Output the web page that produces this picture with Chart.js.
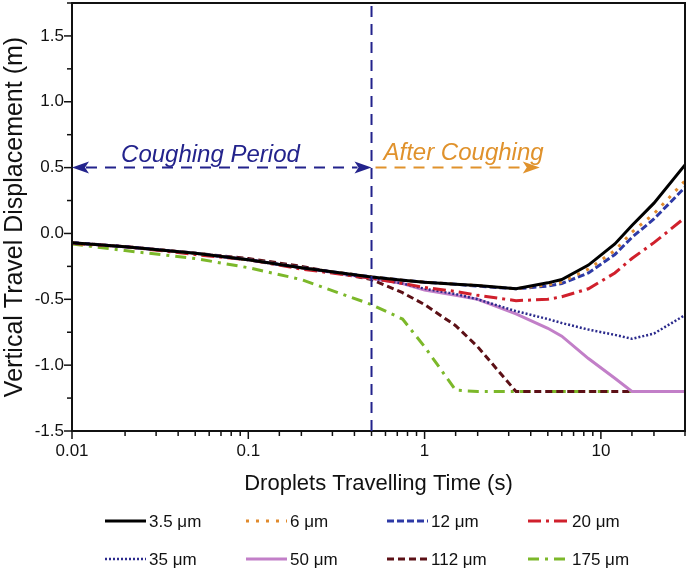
<!DOCTYPE html>
<html>
<head>
<meta charset="utf-8">
<script src="https://cdn.jsdelivr.net/npm/chart.js@4.4.0/dist/chart.umd.min.js"></script>
<style>
  html, body { margin: 0; padding: 0; background: #fff; }
  #wrap { width: 688px; height: 572px; }
</style>
</head>
<body>
<div id="wrap"><canvas id="chart"></canvas></div>
<script>
// droplet travelling time (s), shared by all series
const times = [0.01, 0.02, 0.05, 0.1, 0.2, 0.5, 0.75, 1, 1.5, 2, 3.3, 5, 6, 8.5, 12, 15, 20, 30];

const sizeLabels = ['3.5 μm', '6 μm', '12 μm', '20 μm', '35 μm', '50 μm', '112 μm', '175 μm'];

// vertical travel displacement (m), one array per droplet size
const d3_5 = [-0.07, -0.10, -0.15, -0.20, -0.26, -0.33, -0.355, -0.37, -0.385, -0.395, -0.42, -0.375, -0.35, -0.24, -0.08, 0.06, 0.23, 0.52];
const d6   = [-0.07, -0.10, -0.15, -0.20, -0.26, -0.33, -0.355, -0.37, -0.385, -0.395, -0.42, -0.39, -0.37, -0.27, -0.13, 0.01, 0.15, 0.40];
const d12  = [-0.07, -0.10, -0.15, -0.20, -0.26, -0.33, -0.355, -0.37, -0.385, -0.40, -0.42, -0.40, -0.38, -0.30, -0.16, -0.03, 0.11, 0.35];
const d20  = [-0.075, -0.10, -0.16, -0.20, -0.27, -0.34, -0.38, -0.41, -0.44, -0.47, -0.51, -0.50, -0.48, -0.42, -0.30, -0.19, -0.07, 0.12];
const d35  = [-0.07, -0.10, -0.15, -0.20, -0.26, -0.34, -0.38, -0.42, -0.46, -0.50, -0.59, -0.65, -0.68, -0.73, -0.77, -0.80, -0.76, -0.62];
const d50  = [-0.07, -0.10, -0.15, -0.20, -0.26, -0.34, -0.38, -0.43, -0.47, -0.50, -0.61, -0.72, -0.78, -0.95, -1.10, -1.20, -1.20, -1.20];
const d112 = [-0.07, -0.10, -0.15, -0.19, -0.25, -0.35, -0.45, -0.54, -0.70, -0.86, -1.20, -1.20, -1.20, -1.20, -1.20, -1.20, null, null];
const d175 = [-0.08, -0.13, -0.19, -0.26, -0.35, -0.54, -0.65, -0.86, -1.19, -1.20, -1.20, -1.20, -1.20, -1.20, -1.20, -1.20, null, null];

const coughEnd = 0.5;     // end of coughing period (s)
const afterArrowEnd = 4.5;

const series = [d3_5, d6, d12, d20, d35, d50, d112, d175];
const colors = ['#000000', '#e08a2c', '#2e3aa6', '#d0202c', '#2b2a8c', '#c27fc8', '#5c1016', '#7cb82a'];
const dashes = [[], [3, 7], [7, 3], [13, 5, 3, 5], [2, 2], [], [7, 4], [11, 6, 3, 6]];
const widths = [3, 3, 3, 3, 2.5, 3, 3, 3];

const FONT = '"Liberation Sans", Arial, sans-serif';

const datasets = series.map((vals, i) => ({
  label: sizeLabels[i],
  data: times.map((t, j) => ({ x: t, y: vals[j] })).filter(p => p.y !== null),
  borderColor: colors[i],
  backgroundColor: colors[i],
  borderWidth: widths[i],
  borderDash: dashes[i],
  pointRadius: 0,
  tension: 0,
  fill: false
}));

const isDecade = v => Math.abs(Math.log10(v) - Math.round(Math.log10(v))) < 1e-6;

// frame, tick marks, annotations and the custom legend
const decorPlugin = {
  id: 'decor',
  afterDraw(chart) {
    const { ctx, chartArea: a, scales: { x, y } } = chart;
    ctx.save();

    // tick marks
    ctx.strokeStyle = '#111';
    ctx.lineWidth = 1.5;
    x.ticks.forEach(t => {
      const px = x.getPixelForValue(t.value);
      const len = isDecade(t.value) ? 8 : 5;
      ctx.beginPath(); ctx.moveTo(px, a.bottom); ctx.lineTo(px, a.bottom + len); ctx.stroke();
    });
    y.ticks.forEach(t => {
      const py = y.getPixelForValue(t.value);
      const major = Math.abs(t.value * 2 - Math.round(t.value * 2)) < 1e-6;
      const len = major ? 8 : 5;
      ctx.beginPath(); ctx.moveTo(a.left, py); ctx.lineTo(a.left - len, py); ctx.stroke();
    });

    // frame
    ctx.lineWidth = 2;
    ctx.strokeStyle = '#111';
    ctx.strokeRect(a.left, a.top, a.right - a.left, a.bottom - a.top);

    // coughing period marker
    const navy = '#23238c';
    const orange = '#e0922c';
    const xc = x.getPixelForValue(coughEnd);
    const ya = y.getPixelForValue(0.5);
    ctx.lineWidth = 2;
    ctx.setLineDash([11, 7]);
    ctx.strokeStyle = navy;
    ctx.beginPath(); ctx.moveTo(xc, a.bottom); ctx.lineTo(xc, a.top); ctx.stroke();

    const head = (tipX, dir, col) => {
      ctx.fillStyle = col;
      ctx.beginPath();
      ctx.moveTo(tipX, ya);
      ctx.lineTo(tipX - dir * 17, ya - 6);
      ctx.lineTo(tipX - dir * 13, ya);
      ctx.lineTo(tipX - dir * 17, ya + 6);
      ctx.closePath();
      ctx.fill();
    };
    ctx.setLineDash([11, 8]);
    ctx.beginPath(); ctx.moveTo(a.left + 14, ya); ctx.lineTo(xc - 14, ya); ctx.stroke();
    ctx.setLineDash([]);
    head(a.left, -1, navy);
    head(xc, 1, navy);

    const xe = x.getPixelForValue(afterArrowEnd);
    ctx.strokeStyle = orange;
    ctx.setLineDash([11, 8]);
    ctx.beginPath(); ctx.moveTo(xc + 4, ya); ctx.lineTo(xe - 14, ya); ctx.stroke();
    ctx.setLineDash([]);
    head(xe, 1, orange);

    ctx.font = 'italic 24px ' + FONT;
    ctx.textBaseline = 'alphabetic';
    ctx.textAlign = 'center';
    ctx.fillStyle = navy;
    ctx.fillText('Coughing Period', x.getPixelForValue(0.061), y.getPixelForValue(0.545));
    ctx.textAlign = 'left';
    ctx.fillStyle = orange;
    ctx.fillText('After Coughing', xc + 12, y.getPixelForValue(0.56));

    // legend: 4 columns x 2 rows
    const cols = [105, 246, 387, 528];
    const rows = [521, 559];
    ctx.font = '17px ' + FONT;
    ctx.textBaseline = 'middle';
    ctx.textAlign = 'left';
    chart.data.datasets.forEach((ds, i) => {
      const cx = cols[i % 4];
      const cy = rows[Math.floor(i / 4)];
      ctx.strokeStyle = ds.borderColor;
      ctx.lineWidth = ds.borderWidth;
      ctx.setLineDash(ds.borderDash);
      ctx.beginPath(); ctx.moveTo(cx, cy); ctx.lineTo(cx + 41, cy); ctx.stroke();
      ctx.setLineDash([]);
      ctx.fillStyle = '#111';
      ctx.fillText(ds.label, cx + 44, cy + 1);
    });

    ctx.restore();
  }
};

new Chart(document.getElementById('chart'), {
  type: 'line',
  data: { datasets },
  options: {
    responsive: true,
    maintainAspectRatio: false,
    animation: false,
    layout: { padding: { top: 3, right: 3, bottom: 74, left: 0 } },
    plugins: { legend: { display: false }, tooltip: { enabled: false } },
    scales: {
      x: {
        type: 'logarithmic',
        min: 0.01,
        max: 30,
        afterFit: s => { s.height = 67; s.paddingLeft = 0; s.paddingRight = 0; },
        grid: { drawOnChartArea: false, drawTicks: true, tickLength: 7, color: 'rgba(0,0,0,0)' },
        border: { display: false },
        ticks: {
          autoSkip: false,
          maxRotation: 0,
          padding: 3,
          color: '#111',
          font: { family: FONT, size: 17 },
          callback: v => isDecade(v) ? String(v) : ''
        },
        title: {
          display: true,
          text: 'Droplets Travelling Time (s)',
          color: '#111',
          font: { family: FONT, size: 22 },
          padding: { top: 0, bottom: 1 }
        }
      },
      y: {
        min: -1.5,
        max: 1.75,
        afterFit: s => { s.width = 72; s.paddingTop = 0; s.paddingBottom = 0; },
        grid: { drawOnChartArea: false, drawTicks: true, tickLength: 7, color: 'rgba(0,0,0,0)' },
        border: { display: false },
        ticks: {
          stepSize: 0.25,
          padding: 1,
          color: '#111',
          font: { family: FONT, size: 17 },
          callback: v => Math.abs(v * 2 - Math.round(v * 2)) < 1e-6 ? v.toFixed(1) : ''
        },
        title: {
          display: true,
          text: 'Vertical Travel Displacement (m)',
          color: '#111',
          font: { family: FONT, size: 25, lineHeight: 1.1 },
          padding: { top: 1, bottom: 0 }
        }
      }
    }
  },
  plugins: [decorPlugin]
});
</script>
</body>
</html>
